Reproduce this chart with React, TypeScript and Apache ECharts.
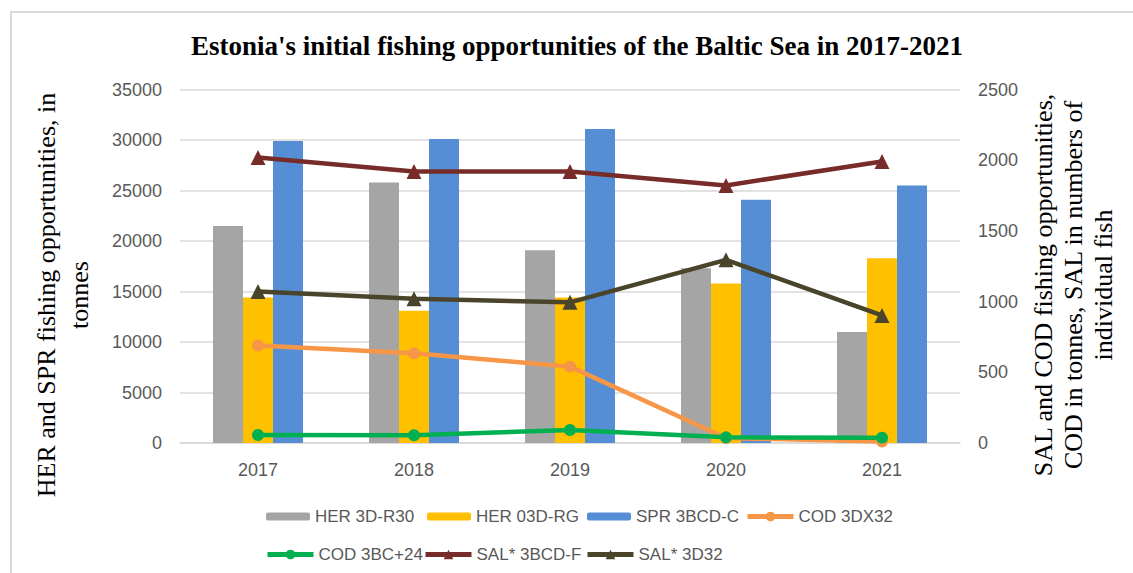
import React, { useEffect, useRef } from "react";
import * as echarts from "echarts";

const years = ["2017", "2018", "2019", "2020", "2021"];
const her3dR30 = [21500, 25800, 19100, 17300, 11000];
const her03dRg = [14400, 13100, 14400, 15800, 18300];
const spr3bcdC = [29900, 30100, 31100, 24100, 25500];
const cod3dx32 = [690, 635, 540, 35, 10];
const cod3bc24 = [57, 55, 92, 40, 38];
const sal3bcdF = [2020, 1920, 1920, 1822, 1992];
const sal3d32 = [1072, 1020, 995, 1296, 902];

const leftTicks = { min: 0, max: 35000, interval: 5000 };
const rightTicks = { min: 0, max: 2500, interval: 500 };

const title = "Estonia's initial fishing opportunities of the Baltic Sea in 2017-2021";
const leftName = "HER and SPR fishing opportunities, in\ntonnes";
const rightName = "SAL and COD fishing opportunities,\nCOD in tonnes, SAL in numbers of\nindividual fish";

const C = {
  gray: "#A5A5A5",
  yellow: "#FFC000",
  blue: "#558ED5",
  orange: "#F79646",
  green: "#00B050",
  red: "#772C2A",
  olive: "#4A452A",
};

export default function App() {
  const ref = useRef<HTMLDivElement>(null);
  useEffect(() => {
    document.body.style.margin = "0";
    const chart = echarts.init(ref.current!, undefined, { renderer: "svg" });
    const sans = "Liberation Sans";
    const serif = "Liberation Serif";
    const legendText = { fontFamily: sans, fontSize: 17, color: "#595959" };
    const mkLegend = (name: string, left: number, top: number, isBar: boolean) => ({
      data: [name],
      left,
      top,
      padding: 0,
      itemWidth: isBar ? 44 : 46,
      itemHeight: isBar ? 8 : 12,
      itemGap: 0,
      textStyle: legendText,
      lineStyle: { width: 5 },
    });
    const bar = (name: string, data: number[], color: string) => ({
      name,
      type: "bar",
      data,
      barWidth: 30,
      barGap: "0%",
      itemStyle: { color },
      yAxisIndex: 0,
    });
    const line = (name: string, data: number[], color: string, symbol: string, size: number) => ({
      name,
      type: "line",
      data,
      yAxisIndex: 1,
      symbol,
      symbolSize: size,
      lineStyle: { color, width: 4.5 },
      itemStyle: { color },
    });
    const plain = (v: number) => String(v);
    chart.setOption({
      animation: false,
      grid: { left: 180, right: 173, top: 89.6, bottom: 130 },
      legend: [
        mkLegend("HER 3D-R30", 266, 508, true),
        mkLegend("HER 03D-RG", 427, 508, true),
        mkLegend("SPR 3BCD-C", 587, 508, true),
        mkLegend("COD 3DX32", 745, 508, false),
        mkLegend("COD 3BC+24", 265, 546, false),
        mkLegend("SAL* 3BCD-F", 423, 546, false),
        mkLegend("SAL* 3D32", 585, 546, false),
      ],
      xAxis: {
        type: "category",
        data: years,
        axisLine: { lineStyle: { color: "#d9d9d9", width: 1.5 } },
        axisTick: { show: false },
        axisLabel: { fontFamily: sans, fontSize: 18, color: "#595959", margin: 18 },
      },
      yAxis: [
        {
          type: "value",
          ...leftTicks,
          axisLine: { show: false },
          axisTick: { show: false },
          splitLine: { lineStyle: { color: "#d9d9d9", width: 1.5 } },
          axisLabel: { fontFamily: sans, fontSize: 18, color: "#595959", margin: 18, formatter: plain },
        },
        {
          type: "value",
          ...rightTicks,
          axisLine: { show: false },
          axisTick: { show: false },
          splitLine: { show: false },
          axisLabel: { fontFamily: sans, fontSize: 18, color: "#595959", margin: 18, formatter: plain },
        },
      ],
      series: [
        bar("HER 3D-R30", her3dR30, C.gray),
        bar("HER 03D-RG", her03dRg, C.yellow),
        bar("SPR 3BCD-C", spr3bcdC, C.blue),
        line("COD 3DX32", cod3dx32, C.orange, "circle", 12),
        line("COD 3BC+24", cod3bc24, C.green, "circle", 12),
        line("SAL* 3BCD-F", sal3bcdF, C.red, "triangle", 15),
        line("SAL* 3D32", sal3d32, C.olive, "triangle", 15),
      ],
      graphic: [
        {
          type: "rect",
          shape: { x: 11, y: 12, width: 1300, height: 800 },
          style: { fill: "none", stroke: "#d9d9d9", lineWidth: 2 },
          silent: true,
          z: -10,
        },
        {
          type: "text",
          x: 577,
          y: 46,
          style: {
            text: title,
            fontFamily: serif,
            fontWeight: "bold",
            fontSize: 27,
            fill: "#000",
            align: "center",
            verticalAlign: "middle",
          },
        },
        {
          type: "text",
          x: 63,
          y: 295,
          rotation: Math.PI / 2,
          style: {
            text: leftName,
            fontFamily: serif,
            fontSize: 26,
            lineHeight: 33,
            fill: "#000",
            align: "center",
            verticalAlign: "middle",
          },
        },
        {
          type: "text",
          x: 1073,
          y: 285,
          rotation: Math.PI / 2,
          style: {
            text: rightName,
            fontFamily: serif,
            fontSize: 26,
            lineHeight: 30,
            fill: "#000",
            align: "center",
            verticalAlign: "middle",
          },
        },
      ],
    });
    return () => chart.dispose();
  }, []);
  return (
    <div
      ref={ref}
      style={{ position: "fixed", left: 0, top: 0, width: 1133, height: 573, background: "#fff" }}
    />
  );
}
